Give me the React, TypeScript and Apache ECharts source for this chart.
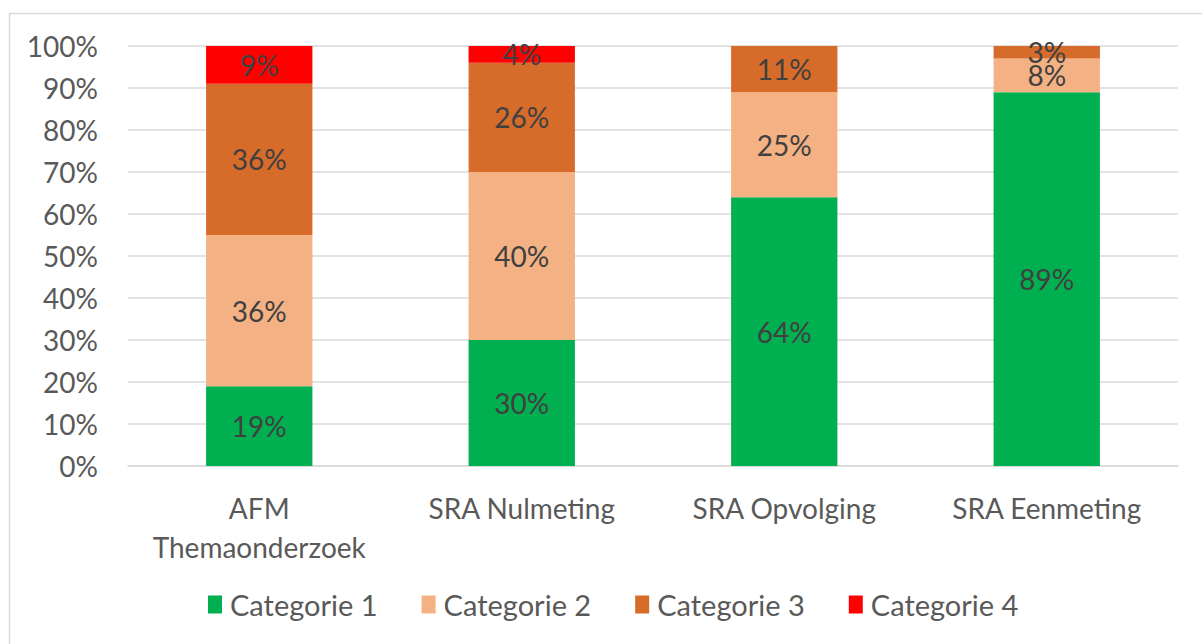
import React, { useEffect, useRef } from "react";
import * as echarts from "echarts";

const categories = ["AFM\nThemaonderzoek", "SRA Nulmeting", "SRA Opvolging", "SRA Eenmeting"];
const seriesNames = ["Categorie 1", "Categorie 2", "Categorie 3", "Categorie 4"];
const cat1 = [19, 30, 64, 89];
const cat2 = [36, 40, 25, 8];
const cat3 = [36, 26, 11, 3];
const cat4 = [9, 4, null, null];
const colors = ["#00B050", "#F4B183", "#D66B2A", "#FF0000"];

const FONT = "Lato, 'Open Sans', sans-serif";
const FS = 28;

export default function App() {
  const ref = useRef<HTMLDivElement>(null);
  useEffect(() => {
    if (!ref.current) return;
    const chart = echarts.init(ref.current, null, { renderer: "svg" });
    const data = [cat1, cat2, cat3, cat4];
    chart.setOption({
      animation: false,
      textStyle: { fontFamily: FONT },
      graphic: [
        {
          type: "rect",
          shape: { x: 9.5, y: 13.5, width: 1200, height: 640 },
          style: { fill: "none", stroke: "#d9d9d9", lineWidth: 1.5 },
          silent: true,
        },
      ],
      grid: { left: 128, right: 24, top: 46, bottom: 178, containLabel: false },
      legend: {
        bottom: 20,
        left: 203,
        itemWidth: 14,
        itemHeight: 18,
        itemGap: 44,
        icon: "rect",
        textStyle: { color: "#595959", fontSize: 29, fontFamily: FONT, padding: [0, 0, 0, 3] },
        data: seriesNames,
      },
      xAxis: {
        type: "category",
        data: categories,
        axisLine: { lineStyle: { color: "#d9d9d9", width: 1.5 } },
        axisTick: { show: false },
        axisLabel: {
          color: "#595959",
          fontSize: FS,
          fontFamily: FONT,
          lineHeight: 39,
          margin: 22,
          interval: 0,
        },
      },
      yAxis: {
        type: "value",
        min: 0,
        max: 100,
        interval: 10,
        axisLine: { show: false },
        axisTick: { show: false },
        splitLine: { lineStyle: { color: "#d9d9d9", width: 1.5 } },
        axisLabel: { color: "#595959", fontSize: FS, fontFamily: FONT, formatter: "{value}%", margin: 30 },
      },
      series: seriesNames.map((name, i) => ({
        name,
        type: "bar",
        stack: "total",
        barWidth: "40.5%",
        data: data[i],
        itemStyle: { color: colors[i] },
        label: {
          show: true,
          position: "inside",
          color: "#404040",
          fontSize: FS,
          fontFamily: FONT,
          formatter: (p: any) => (p.value == null || p.value === 0 ? "" : p.value + "%"),
        },
      })),
    });
    return () => chart.dispose();
  }, []);
  return (
    <div
      ref={ref}
      style={{ position: "absolute", left: 0, top: 0, width: 1202, height: 644, background: "#fff" }}
    />
  );
}
